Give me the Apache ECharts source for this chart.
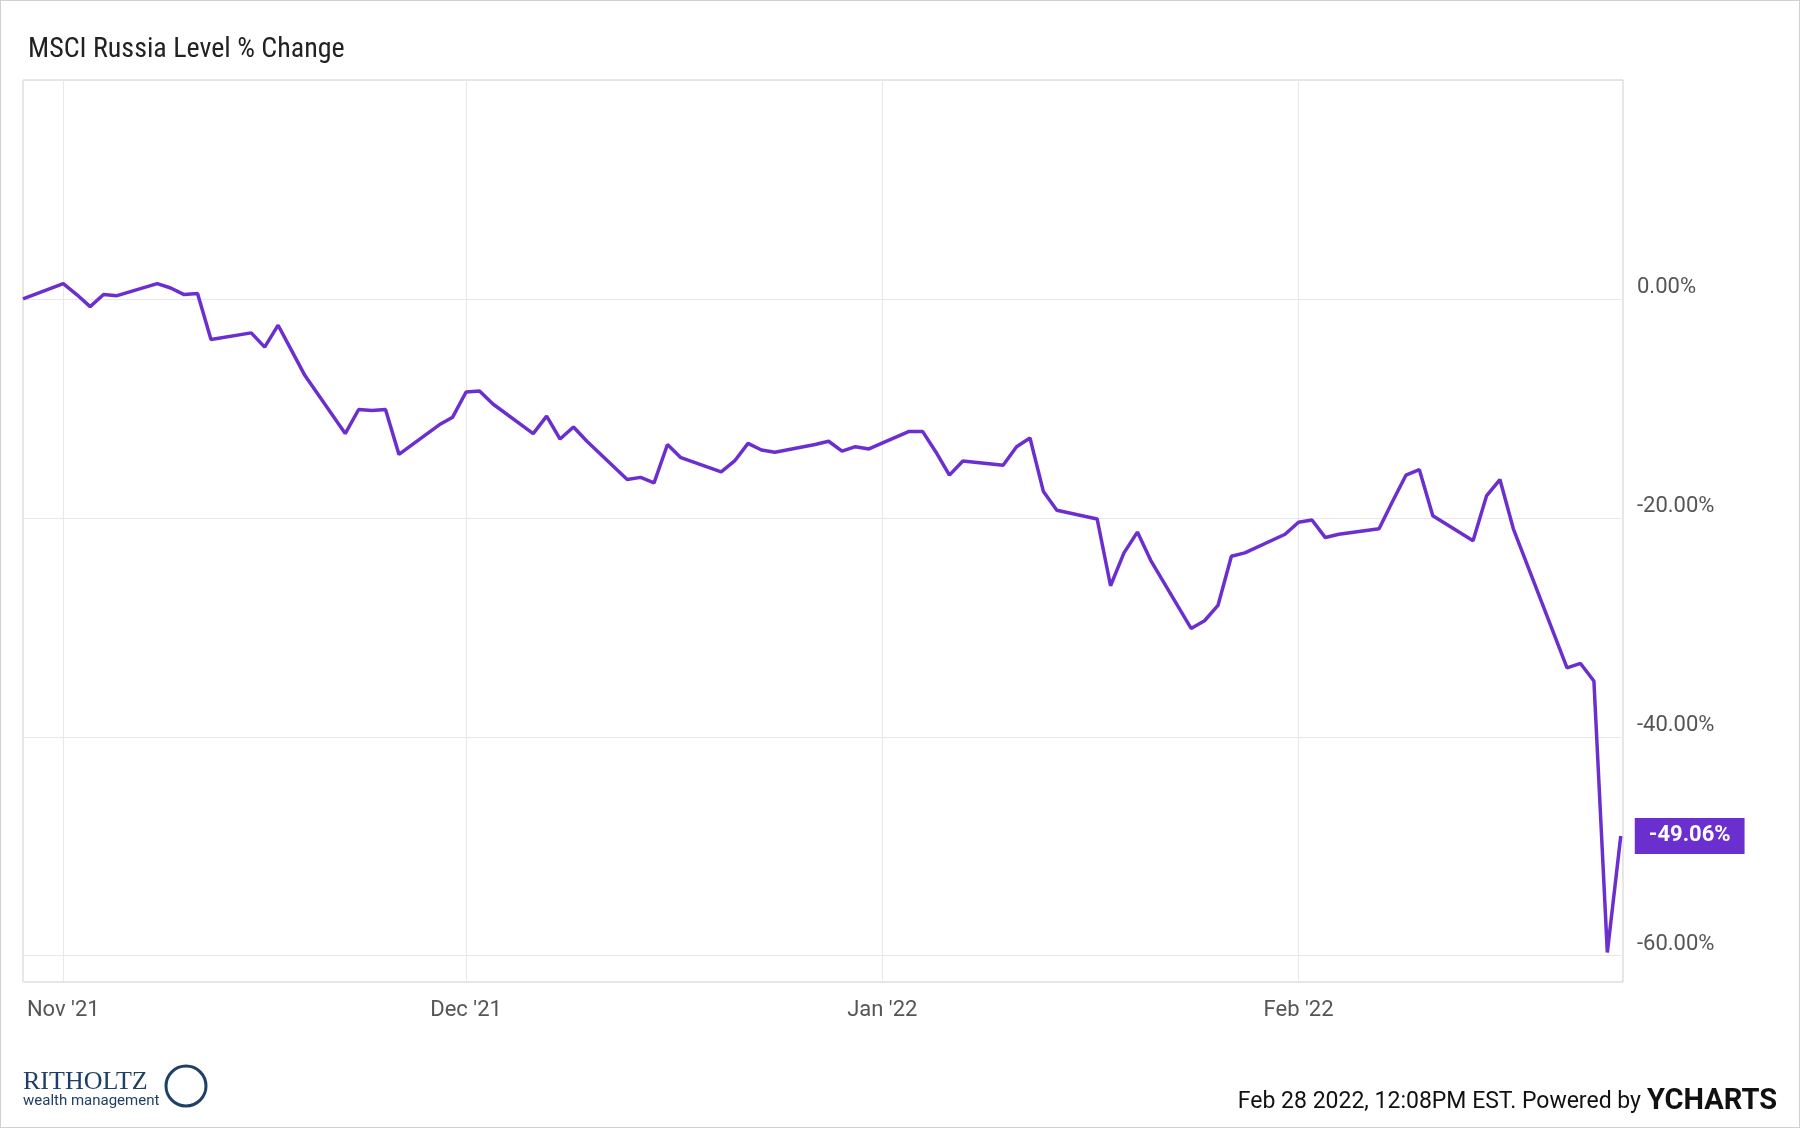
<!DOCTYPE html>
<html lang="en">
<head>
<meta charset="UTF-8" />
<title>MSCI Russia</title>
<style>
  html, body { margin: 0; padding: 0; background: #fff; }
  #chart { width: 1800px; height: 1128px; box-sizing: border-box; border: 1px solid #d0d0d0; }
</style>
</head>
<body>
<div id="chart"></div>
<script src="https://cdn.jsdelivr.net/npm/echarts@6/dist/echarts.min.js"></script>
<script>
const dates = ['2021-10-29','2021-11-01','2021-11-02','2021-11-03','2021-11-04','2021-11-05','2021-11-08','2021-11-09','2021-11-10','2021-11-11','2021-11-12','2021-11-15','2021-11-16','2021-11-17','2021-11-18','2021-11-19','2021-11-22','2021-11-23','2021-11-24','2021-11-25','2021-11-26','2021-11-29','2021-11-30','2021-12-01','2021-12-02','2021-12-03','2021-12-06','2021-12-07','2021-12-08','2021-12-09','2021-12-10','2021-12-13','2021-12-14','2021-12-15','2021-12-16','2021-12-17','2021-12-20','2021-12-21','2021-12-22','2021-12-23','2021-12-24','2021-12-27','2021-12-28','2021-12-29','2021-12-30','2021-12-31','2022-01-03','2022-01-04','2022-01-05','2022-01-06','2022-01-07','2022-01-10','2022-01-11','2022-01-12','2022-01-13','2022-01-14','2022-01-17','2022-01-18','2022-01-19','2022-01-20','2022-01-21','2022-01-24','2022-01-25','2022-01-26','2022-01-27','2022-01-28','2022-01-31','2022-02-01','2022-02-02','2022-02-03','2022-02-04','2022-02-07','2022-02-08','2022-02-09','2022-02-10','2022-02-11','2022-02-14','2022-02-15','2022-02-16','2022-02-17','2022-02-21','2022-02-22','2022-02-23','2022-02-24','2022-02-25'];
const values = [0,1.4,0.4,-0.7,0.4,0.3,1.4,1.0,0.4,0.5,-3.7,-3.1,-4.4,-2.4,-4.7,-7.0,-12.3,-10.1,-10.2,-10.1,-14.2,-11.5,-10.8,-8.5,-8.4,-9.6,-12.3,-10.7,-12.8,-11.7,-13.0,-16.5,-16.3,-16.8,-13.3,-14.5,-15.8,-14.8,-13.2,-13.8,-14.0,-13.3,-13.0,-13.9,-13.5,-13.7,-12.1,-12.1,-14.0,-16.1,-14.8,-15.2,-13.5,-12.7,-17.6,-19.3,-20.1,-26.2,-23.2,-21.3,-23.9,-30.1,-29.4,-28.0,-23.5,-23.2,-21.5,-20.4,-20.2,-21.8,-21.5,-21.0,-18.5,-16.1,-15.6,-19.8,-22.1,-18.0,-16.5,-21.0,-33.7,-33.3,-34.9,-59.7,-49.06];
const yTicks = [0, -20, -40, -60];
const monthNames = ['Jan','Feb','Mar','Apr','May','Jun','Jul','Aug','Sep','Oct','Nov','Dec'];

const chart = echarts.init(document.getElementById('chart'));
const purple = '#6c2fcf';
chart.setOption({
  animation: false,
  textStyle: { fontFamily: 'Roboto' },
  title: {
    text: 'MSCI Russia Level % Change',
    left: 22, top: 30,
    textStyle: { fontSize: 28, fontWeight: 'normal', color: '#222', fontFamily: 'Roboto Condensed, Roboto' }
  },
  grid: { left: 22, right: 176, top: 79, bottom: 145, show: true, borderColor: '#ccc', borderWidth: 1 },
  xAxis: {
    type: 'time',
    min: new Date('2021-10-29').getTime(),
    max: new Date('2022-02-25T04:00:00').getTime(),
    splitNumber: 4,
    axisLine: { show: false },
    axisTick: { show: false },
    splitLine: { show: true, lineStyle: { color: '#e8e8e8' } },
    axisLabel: {
      fontSize: 22, color: '#555', margin: 17,
      formatter: function (v) {
        const d = new Date(v);
        if (d.getDate() !== 1) return '';
        return monthNames[d.getMonth()] + " '" + String(d.getFullYear()).slice(2);
      }
    }
  },
  yAxis: {
    type: 'value',
    position: 'right',
    min: -62.4, max: 20,
    axisLine: { show: false },
    axisTick: { show: false, customValues: yTicks },
    splitLine: { show: true, lineStyle: { color: '#e8e8e8' } },
    axisLabel: {
      customValues: yTicks,
      fontSize: 22, color: '#555', margin: 14,
      verticalAlign: 'bottom',
      formatter: v => v.toFixed(2) + '%'
    }
  },
  series: [{
    type: 'line',
    data: dates.map((d, i) => [d, values[i]]),
    showSymbol: false,
    lineStyle: { color: purple, width: 3.5 },
    itemStyle: { color: purple },
    endLabel: {
      show: true,
      formatter: '-49.06%',
      backgroundColor: purple,
      color: '#fff',
      fontSize: 22,
      fontWeight: 'bold',
      padding: [7, 14, 7, 14],
      distance: 14
    }
  }],
  graphic: [
    { type: 'text', left: 22, top: 1068, style: { text: 'RITHOLTZ', font: '26px "Liberation Serif"', fill: '#1f3f66' } },
    { type: 'text', left: 22, top: 1093, style: { text: 'wealth management', font: '15px Roboto', fill: '#1f3f66' } },
    { type: 'circle', shape: { cx: 185, cy: 1085, r: 20 }, style: { fill: 'none', stroke: '#1f3f66', lineWidth: 3 } },
    { type: 'text', right: 158, top: 1090, style: { text: 'Feb 28 2022, 12:08PM EST. Powered by', font: '23px Roboto', fill: '#111' } },
    { type: 'text', right: 22, top: 1086, style: { text: 'YCHARTS', font: 'bold 29px Roboto', fill: '#111' } }
  ]
});
</script>
</body>
</html>
